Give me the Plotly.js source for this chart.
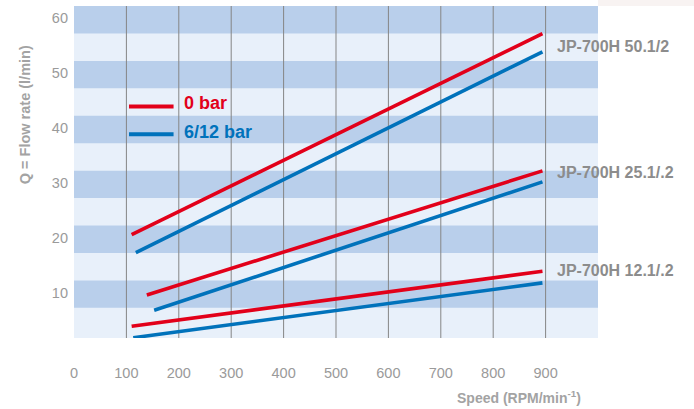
<!DOCTYPE html>
<html>
<head>
<meta charset="utf-8">
<script src="https://cdn.plot.ly/plotly-3.0.1.min.js"></script>
<style>html,body{margin:0;padding:0;background:#fff;}#chart{width:694px;height:409px;}</style>
</head>
<body>
<div id="chart"></div>
<script>
// ---- data ----
const models = ['JP-700H 50.1/2', 'JP-700H 25.1/.2', 'JP-700H 12.1/.2'];
const seriesNames = ['0 bar', '6/12 bar'];
// 0 bar (red) : start/end speed and flow for each model
const redStartX = [110, 139, 110];
const redStartY = [20.6, 9.6, 3.9];
const redEndX   = [894, 894, 894];
const redEndY   = [57.2, 32.2, 13.9];
// 6/12 bar (blue)
const blueStartX = [118, 153, 113];
const blueStartY = [17.3, 6.8, 1.8];
const blueEndX   = [894, 894, 894];
const blueEndY   = [53.9, 30.2, 11.8];
const xTicks = [0, 100, 200, 300, 400, 500, 600, 700, 800, 900];
const yTicks = [10, 20, 30, 40, 50, 60];
const gridX  = [100, 200, 300, 400, 500, 600, 700, 800, 900];

const RED = '#e2001a', BLUE = '#0072bb';
const SANS = '"Liberation Sans", Arial, sans-serif';

const traces = [];
models.forEach((m, i) => {
  traces.push({x: [redStartX[i], redEndX[i]], y: [redStartY[i], redEndY[i]], mode: 'lines',
    name: seriesNames[0] + ' ' + m, line: {color: RED, width: 3.6}, showlegend: false, cliponaxis: false});
  traces.push({x: [blueStartX[i], blueEndX[i]], y: [blueStartY[i], blueEndY[i]], mode: 'lines',
    name: seriesNames[1] + ' ' + m, line: {color: BLUE, width: 3.6}, showlegend: false, cliponaxis: false});
});

const shapes = [];
// horizontal bands
for (let b = 7.25; b < 62; b += 10) {
  shapes.push({type: 'rect', xref: 'paper', yref: 'y', x0: 0, x1: 1, y0: b, y1: b + 5,
    fillcolor: '#b9cfeb', line: {width: 0}, layer: 'below'});
}
// vertical grid lines
gridX.forEach(v => shapes.push({type: 'line', xref: 'x', yref: 'paper', x0: v, x1: v, y0: 0, y1: 1,
  line: {color: '#858585', width: 1}, layer: 'below'}));
// faint strip at top right
shapes.push({type: 'rect', xref: 'paper', yref: 'paper', x0: 1.0, x1: 1.2, y0: 1.0, y1: 1.03,
  fillcolor: '#f8f3f2', line: {width: 0}});
// legend keys
shapes.push({type: 'line', xref: 'paper', yref: 'paper', x0: 0.105, x1: 0.190, y0: 0.697, y1: 0.697,
  line: {color: RED, width: 4}});
shapes.push({type: 'line', xref: 'paper', yref: 'paper', x0: 0.105, x1: 0.190, y0: 0.614, y1: 0.614,
  line: {color: BLUE, width: 4}});

const labelY = [54.8, 32.0, 14.1];
const annotations = models.map((m, i) => ({
  text: '<b>' + m + '</b>', x: 918, y: labelY[i], xref: 'x', yref: 'y', xanchor: 'left', yanchor: 'middle',
  showarrow: false, font: {family: SANS, size: 16, color: '#8c8c8c'}
}));
annotations.push({text: '<b>' + seriesNames[0] + '</b>', xref: 'paper', yref: 'paper', x: 0.207, y: 0.707,
  xanchor: 'left', yanchor: 'middle', showarrow: false, font: {family: SANS, size: 18, color: RED}});
annotations.push({text: '<b>' + seriesNames[1] + '</b>', xref: 'paper', yref: 'paper', x: 0.207, y: 0.621,
  xanchor: 'left', yanchor: 'middle', showarrow: false, font: {family: SANS, size: 18, color: BLUE}});
annotations.push({text: '<b>Q = Flow rate (l/min)</b>', xref: 'paper', yref: 'paper', x: -0.0944, y: 0.6726,
  xanchor: 'center', yanchor: 'middle', textangle: -90, showarrow: false,
  font: {family: SANS, size: 14.5, color: '#a3a3a3'}});
annotations.push({text: '<b>Speed (RPM/min<sup>-1</sup>)</b>', xref: 'paper', yref: 'paper', x: 0.972, y: -0.1768,
  xanchor: 'right', yanchor: 'middle', showarrow: false,
  font: {family: SANS, size: 14, color: '#a3a3a3'}});

const layout = {
  width: 694, height: 409,
  margin: {l: 74, r: 96, t: 6, b: 71},
  paper_bgcolor: '#ffffff', plot_bgcolor: '#e8f0fa',
  showlegend: false,
  xaxis: {range: [0, 1000], tickvals: xTicks, ticktext: xTicks.map(String), showgrid: false, zeroline: false,
    showline: false, ticks: '', ticklabelstandoff: 24,
    tickfont: {family: SANS, size: 14.5, color: '#9a9a9a'}},
  yaxis: {range: [1.75, 62.25], tickvals: yTicks, ticktext: yTicks.map(String), showgrid: false, zeroline: false,
    showline: false, ticks: '', ticklabelstandoff: 5,
    tickfont: {family: SANS, size: 14.5, color: '#9a9a9a'}},
  shapes: shapes,
  annotations: annotations
};

Plotly.newPlot('chart', traces, layout, {staticPlot: true, displayModeBar: false});
</script>
</body>
</html>
